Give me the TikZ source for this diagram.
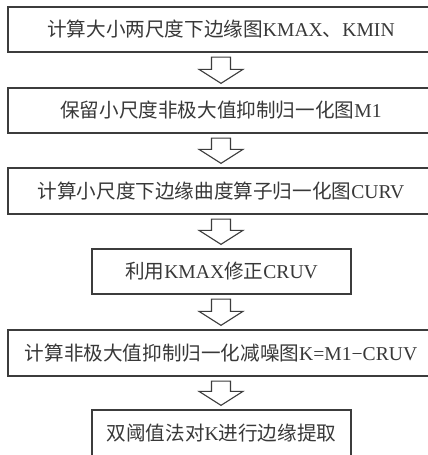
\documentclass[tikz,border=0pt]{standalone}
\usepackage{fontspec}
\setmainfont{Liberation Serif}
\newfontfamily\cjk{Noto Sans CJK SC}
\usetikzlibrary{calc}
\definecolor{linegray}{HTML}{3C3C3C}
\definecolor{textgray}{HTML}{383838}
\tikzset{
  stepbox/.style={draw=linegray, line width=1.3pt, rectangle, inner sep=0pt,
    minimum height=45pt, text=textgray, font=\fontsize{19.6pt}{22pt}\selectfont},
  widebox/.style={stepbox, minimum width=426pt},
  narrowbox/.style={stepbox, minimum width=259pt},
  harrow/.style={draw=linegray, line width=1.1pt, fill=white, line join=miter}
}
\newcommand\hollowarrow[2]{%
  \draw[harrow] let \p1=(#1.south), \p2=(#2.north) in
    (221pt-9.5pt,\y1-4.5pt) -- (221pt-9.5pt,\y2+18pt) -- (221pt-22pt,\y2+18pt)
    -- (221pt,\y2+4pt) -- (221pt+22pt,\y2+18pt) -- (221pt+9.5pt,\y2+18pt)
    -- (221pt+9.5pt,\y1-4.5pt) -- cycle;}
\begin{document}
\begin{tikzpicture}[x=1pt,y=-1pt]
\useasboundingbox (0,0) rectangle (428,455);
\clip (0,0) rectangle (428,455);
\fill[white] (0,0) rectangle (428,455);
\node[widebox] (b1) at (221,29.5) {{\cjk 计算大小两尺度下边缘图}KMAX{\cjk 、}KMIN};
\node[widebox] (b2) at (221,110.5) {{\cjk 保留小尺度非极大值抑制归一化图}M1};
\node[widebox, minimum height=46pt] (b3) at (221,191) {{\cjk 计算小尺度下边缘曲度算子归一化图}CURV};
\node[narrowbox] (b4) at (221.5,271.5) {{\cjk 利用}KMAX{\cjk 修正}CRUV};
\node[widebox, minimum height=46pt] (b5) at (221,353) {{\cjk 计算非极大值抑制归一化减噪图}K=M1−CRUV};
\node[narrowbox, minimum height=47pt] (b6) at (221.5,433.5) {{\cjk 双阈值法对}K{\cjk 进行边缘提取}};
\hollowarrow{b1}{b2}
\hollowarrow{b2}{b3}
\hollowarrow{b3}{b4}
\hollowarrow{b4}{b5}
\hollowarrow{b5}{b6}
\end{tikzpicture}
\end{document}
